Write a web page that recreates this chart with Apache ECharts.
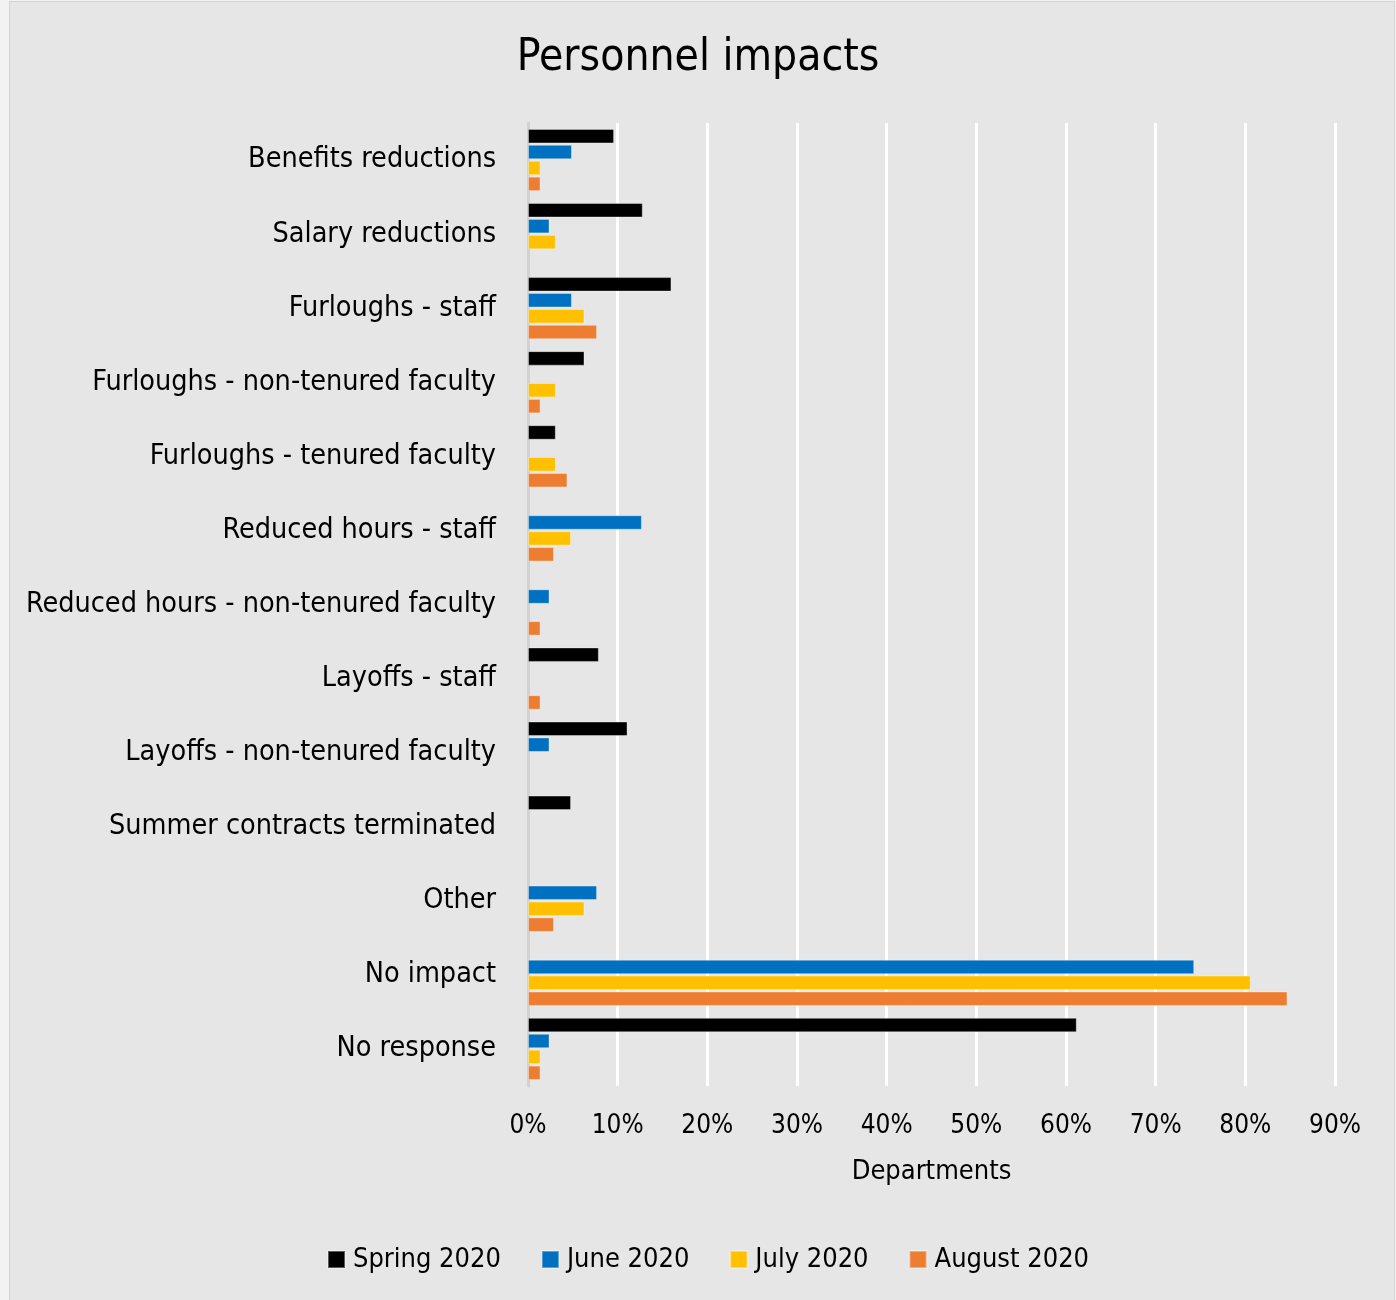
<!DOCTYPE html>
<html>
<head>
<meta charset="utf-8">
<script src="https://cdn.jsdelivr.net/npm/echarts@6/dist/echarts.min.js"></script>
<style>
  html, body { margin: 0; padding: 0; background: #f2f2f2; }
  #frame { position: absolute; left: 9px; top: 1px; width: 1384px; height: 1298px; background: #E6E6E6; border: 1px solid #d4d4d4; }
  #chart { position: absolute; left: -10px; top: -2px; width: 1396px; height: 1300px; }
</style>
</head>
<body>
<div id="frame"><div id="chart"></div></div>
<script>
const categories = [
  "Benefits reductions",
  "Salary reductions",
  "Furloughs - staff",
  "Furloughs - non-tenured faculty",
  "Furloughs - tenured faculty",
  "Reduced hours - staff",
  "Reduced hours - non-tenured faculty",
  "Layoffs - staff",
  "Layoffs - non-tenured faculty",
  "Summer contracts terminated",
  "Other",
  "No impact",
  "No response"
];
const seriesNames = ["Spring 2020", "June 2020", "July 2020", "August 2020"];
const spring2020 = [9.6, 12.8, 16.0, 6.3, 3.1, null, null, 7.9, 11.1, 4.8, null, null, 61.2];
const june2020   = [4.9, 2.4, 4.9, null, null, 12.7, 2.4, null, 2.4, null, 7.7, 74.3, 2.4];
const july2020   = [1.4, 3.1, 6.3, 3.1, 3.1, 4.8, null, null, null, null, 6.3, 80.6, 1.4];
const august2020 = [1.4, null, 7.7, 1.4, 4.4, 2.9, 1.4, 1.4, null, null, 2.9, 84.7, 1.4];
const xTicks = [0, 10, 20, 30, 40, 50, 60, 70, 80, 90];
const colors = ["#000000", "#0070C0", "#FFC000", "#ED7D31"];

const FONT = '"DejaVu Sans Condensed", "Roboto", sans-serif';
const chart = echarts.init(document.getElementById('chart'));
const allData = [spring2020, june2020, july2020, august2020];
chart.setOption({
  backgroundColor: 'transparent',
  title: {
    text: 'Personnel impacts',
    left: 'center',
    top: 32,
    textStyle: { fontFamily: FONT, fontSize: 44, fontWeight: 'normal', color: '#000' }
  },
  legend: {
    bottom: 22,
    left: 322,
    itemWidth: 17,
    itemHeight: 17,
    itemGap: 40,
    icon: 'rect',
    textStyle: { fontFamily: FONT, fontSize: 27, color: '#000', padding: [0, 0, 0, 3] },
    data: seriesNames
  },
  grid: { left: 528, right: 61, top: 123, bottom: 214 },
  xAxis: {
    type: 'value',
    min: xTicks[0],
    max: xTicks[xTicks.length - 1],
    interval: 10,
    name: 'Departments',
    nameLocation: 'middle',
    nameGap: 72,
    nameTextStyle: { fontFamily: FONT, fontSize: 27, color: '#000' },
    axisLine: { show: false },
    axisTick: { show: false },
    axisLabel: { formatter: '{value}%', fontFamily: FONT, fontSize: 26, color: '#000', margin: 27 },
    splitLine: { lineStyle: { color: '#ffffff', width: 3 } }
  },
  yAxis: {
    type: 'category',
    inverse: true,
    data: categories,
    axisLine: { show: true, lineStyle: { color: '#d2d2d2', width: 3 } },
    axisTick: { show: false },
    axisLabel: { fontFamily: FONT, fontSize: 28.5, color: '#000', margin: 32 }
  },
  series: seriesNames.map((n, i) => ({
    name: n,
    type: 'bar',
    data: allData[i],
    barGap: '10%',
    barCategoryGap: '16%',
    itemStyle: { color: colors[i], borderColor: 'rgba(255,255,255,0.35)', borderWidth: 1 }
  })),
  animation: false
});
</script>
</body>
</html>
